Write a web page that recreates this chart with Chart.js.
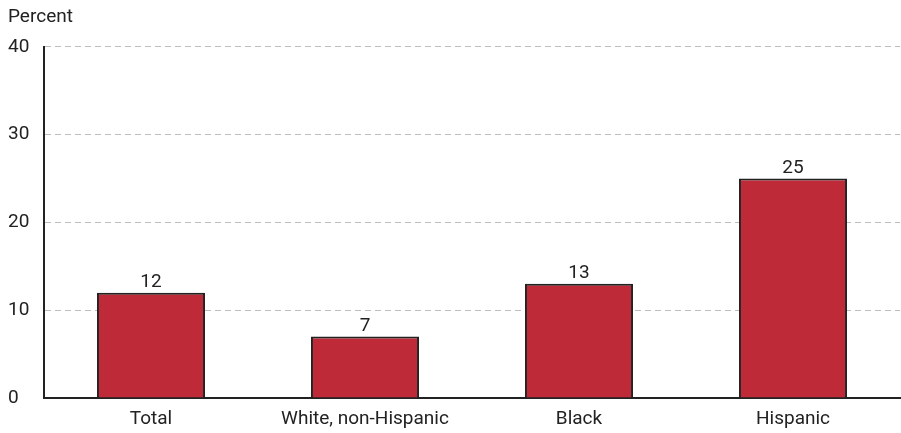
<!DOCTYPE html>
<html>
<head>
<meta charset="utf-8">
<script src="https://cdn.jsdelivr.net/npm/chart.js@4.4.1/dist/chart.umd.min.js"></script>
<style>
  body { margin: 0; background: #fff; }
  #wrap { width: 901px; height: 433px; }
</style>
</head>
<body>
<div id="wrap"><canvas id="chartContainer" width="901" height="433"></canvas></div>
<script>
var categories = ["Total", "White, non-Hispanic", "Black", "Hispanic"];
var percentValues = [12, 7, 13, 25];
var yTicks = [0, 10, 20, 30, 40];

var fontFamily = "Roboto, 'Liberation Sans Narrow', sans-serif";

// writes the value above each bar
var valueLabels = {
    id: 'valueLabels',
    afterDatasetsDraw: function (chart) {
        var ctx = chart.ctx;
        var meta = chart.getDatasetMeta(0);
        ctx.save();
        ctx.font = "19px " + fontFamily;
        ctx.fillStyle = "#222";
        ctx.textAlign = "center";
        ctx.textBaseline = "bottom";
        meta.data.forEach(function (bar, i) {
            ctx.fillText(chart.data.datasets[0].data[i], bar.x, bar.y - 1);
        });
        ctx.restore();
    }
};

var chart = new Chart(document.getElementById("chartContainer"), {
    type: 'bar',
    data: {
        labels: categories,
        datasets: [{
            label: "Percent",
            data: percentValues,
            backgroundColor: '#BE2A37',
            borderColor: '#222222',
            borderWidth: 2,
            borderSkipped: 'bottom',
            barPercentage: 0.505,
            categoryPercentage: 1
        }]
    },
    options: {
        responsive: false,
        animation: false,
        layout: { padding: { top: 0, right: 1, left: 8, bottom: 0 } },
        plugins: {
            legend: { display: false },
            tooltip: { enabled: false },
            title: {
                display: true,
                text: "Percent",
                align: 'start',
                color: '#222',
                font: { family: fontFamily, size: 19, weight: 'normal' },
                padding: { top: 6, bottom: 18 }
            }
        },
        scales: {
            x: {
                grid: { display: false, drawTicks: false },
                border: { color: '#222', width: 2 },
                afterFit: function (axis) {
                    axis.height = 35;
                },
                ticks: {
                    color: '#222',
                    font: { family: fontFamily, size: 19 },
                    padding: 10,
                    maxRotation: 0
                }
            },
            y: {
                min: 0,
                max: 40,
                afterBuildTicks: function (axis) {
                    axis.ticks = yTicks.map(function (v) { return { value: v }; });
                },
                afterFit: function (axis) {
                    axis.width = 36;
                },
                grid: {
                    color: function (c) { return c.tick.value === 0 ? 'rgba(0,0,0,0)' : '#bdbdbd'; },
                    drawTicks: false,
                    lineWidth: 1
                },
                border: { color: '#222', width: 2, dash: [6, 4] },
                ticks: {
                    color: '#222',
                    font: { family: fontFamily, size: 19 },
                    padding: 12,
                    crossAlign: 'far'
                }
            }
        }
    },
    plugins: [valueLabels]
});
</script>
</body>
</html>
